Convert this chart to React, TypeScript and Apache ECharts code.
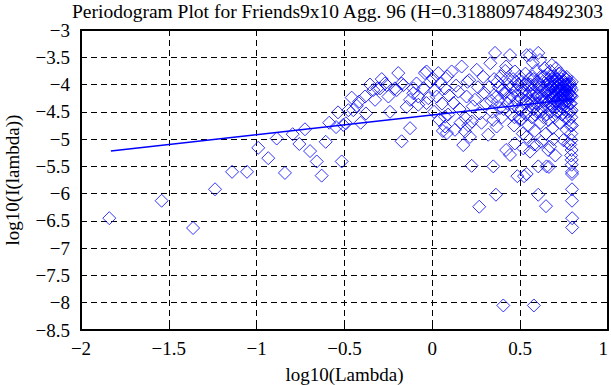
import React, { useEffect, useRef } from "react";
import * as echarts from "echarts";

const titleText = "Periodogram Plot for Friends9x10 Agg. 96 (H=0.318809748492303";
const xAxisName = "log10(Lambda)";
const yAxisName = "log10(I(lambda))";
const xTicks = { min: -2, max: 1, interval: 0.5 };
const yTicks = { min: -8.5, max: -3, interval: 0.5 };

// fitted regression line end points [log10(lambda), log10(I(lambda))]
const fitLine: number[][] = [
  [-1.83, -5.22],
  [0.8, -4.27],
];

// periodogram points, x < 0
const pointsLow: number[][] = [
  [-1.839, -6.45], [-1.541, -6.13], [-1.362, -6.63], [-1.237, -5.92], [-1.14, -5.6],
  [-1.055, -5.6], [-0.991, -5.16], [-0.934, -5.35], [-0.886, -4.99], [-0.839, -5.62],
  [-0.795, -4.91], [-0.757, -5.09], [-0.725, -4.82], [-0.696, -5.22], [-0.658, -5.41],
  [-0.63, -5.67], [-0.607, -5.05], [-0.587, -4.7], [-0.548, -4.78], [-0.537, -4.51],
  [-0.516, -5.41], [-0.507, -4.74], [-0.492, -4.71], [-0.478, -4.47], [-0.459, -4.24],
  [-0.45, -4.47], [-0.43, -4.39], [-0.416, -4.31], [-0.408, -4.7], [-0.383, -4.22],
  [-0.378, -4.53], [-0.355, -4.0], [-0.336, -4.1], [-0.326, -4.28], [-0.313, -4.07],
  [-0.298, -4.07], [-0.288, -3.9], [-0.27, -3.98], [-0.26, -4.01], [-0.25, -4.22],
  [-0.241, -4.5], [-0.213, -4.07], [-0.203, -4.1], [-0.194, -3.79], [-0.175, -5.04],
  [-0.175, -3.98], [-0.165, -4.01], [-0.146, -4.41], [-0.127, -4.8], [-0.127, -4.28],
  [-0.108, -4.16], [-0.108, -4.07], [-0.09, -3.98], [-0.08, -4.22], [-0.08, -4.37],
  [-0.051, -4.07], [-0.042, -3.79], [-0.033, -3.76], [-0.033, -4.34], [-0.023, -4.25],
  [-0.012, -3.95],
];

// periodogram points, 0 <= x < 0.5
const pointsMid: number[][] = [
  [0.005, -3.89], [0.01, -4.5], [0.015, -4.1], [0.025, -4.22], [0.034, -3.79],
  [0.04, -4.65], [0.045, -3.98], [0.055, -4.35], [0.06, -4.85], [0.072, -4.07],
  [0.072, -4.59], [0.072, -4.77], [0.083, -4.89], [0.085, -3.85], [0.09, -4.55],
  [0.095, -4.2], [0.11, -3.76], [0.12, -4.34], [0.129, -4.83], [0.135, -4.02],
  [0.148, -4.13], [0.155, -4.45], [0.16, -4.7], [0.167, -3.67], [0.176, -5.11],
  [0.186, -4.86], [0.19, -4.62], [0.195, -4.22], [0.2, -3.95], [0.205, -4.75],
  [0.21, -3.92], [0.214, -4.96], [0.224, -5.49], [0.225, -4.68], [0.23, -4.4],
  [0.243, -4.28], [0.253, -3.73], [0.26, -4.05], [0.267, -6.24], [0.271, -4.53],
  [0.28, -4.7], [0.29, -3.86], [0.295, -4.15], [0.318, -4.92], [0.33, -3.61],
  [0.335, -4.3], [0.347, -4.65], [0.347, -5.5], [0.357, -3.42], [0.362, -6.02],
  [0.366, -4.22], [0.366, -4.77], [0.37, -3.95], [0.378, -4.05], [0.385, -4.43],
  [0.39, -3.85], [0.395, -4.6], [0.404, -8.05], [0.41, -4.15], [0.415, -3.75],
  [0.42, -3.67], [0.42, -4.13], [0.42, -5.2], [0.428, -4.35], [0.435, -4.0],
  [0.442, -3.46], [0.442, -5.29], [0.45, -4.55], [0.455, -4.2], [0.46, -3.9],
  [0.465, -4.75], [0.47, -3.76], [0.47, -5.08], [0.475, -4.1], [0.48, -4.31],
  [0.484, -5.68], [0.488, -4.0], [0.492, -4.45], [0.497, -3.85],
];

// periodogram points, x >= 0.5
const pointsHigh: number[][] = [
  [0.5, -4.65], [0.505, -4.25], [0.51, -3.95], [0.515, -4.9], [0.518, -5.17],
  [0.52, -4.1], [0.522, -5.68], [0.525, -4.35], [0.53, -3.8], [0.533, -4.55],
  [0.537, -3.46], [0.537, -4.96], [0.537, -5.64], [0.54, -4.2], [0.545, -4.0],
  [0.548, -4.75], [0.55, -3.9], [0.556, -3.46], [0.556, -5.23], [0.56, -4.3],
  [0.563, -4.1], [0.566, -4.6], [0.57, -3.85], [0.573, -3.6], [0.575, -4.45],
  [0.578, -8.05], [0.58, -4.0], [0.58, -5.1], [0.583, -4.85], [0.586, -4.25],
  [0.59, -3.75], [0.593, -4.15], [0.594, -5.11], [0.596, -4.5], [0.6, -3.95],
  [0.603, -3.42], [0.603, -5.5], [0.603, -6.02], [0.606, -4.35], [0.61, -4.05],
  [0.613, -3.55], [0.616, -4.7], [0.62, -3.85], [0.62, -5.05], [0.623, -4.2],
  [0.626, -4.45], [0.63, -3.95], [0.633, -4.6], [0.636, -4.1], [0.64, -3.7],
  [0.643, -4.3], [0.647, -6.23], [0.647, -4.9], [0.65, -5.5], [0.652, -4.0],
  [0.655, -4.4], [0.658, -3.8], [0.66, -4.2], [0.66, -5.2], [0.662, -4.65],
  [0.664, -5.51], [0.666, -3.95], [0.668, -4.1], [0.67, -4.35], [0.67, -5.14],
  [0.672, -3.75], [0.674, -4.5], [0.676, -4.05], [0.678, -4.25], [0.68, -3.64],
  [0.682, -4.15], [0.684, -4.8], [0.686, -3.9], [0.688, -4.4], [0.69, -4.0],
  [0.69, -5.0], [0.692, -4.2], [0.694, -3.85], [0.696, -4.6], [0.698, -4.1],
  [0.7, -3.95], [0.7, -5.3], [0.702, -4.3], [0.704, -3.7], [0.706, -4.05],
  [0.708, -4.5], [0.71, -4.2], [0.712, -3.9], [0.714, -4.15], [0.716, -4.35],
  [0.718, -4.0], [0.72, -3.8], [0.722, -4.25], [0.724, -4.7], [0.726, -4.1],
  [0.728, -3.79], [0.73, -4.4], [0.732, -4.0], [0.734, -4.2], [0.736, -3.9],
  [0.738, -4.55], [0.74, -4.1], [0.742, -4.3], [0.744, -3.85], [0.746, -4.05],
  [0.746, -5.02], [0.748, -4.45], [0.75, -4.2], [0.752, -3.95], [0.754, -4.15],
  [0.756, -4.6], [0.758, -4.0], [0.76, -4.3], [0.762, -3.9], [0.764, -4.1],
  [0.765, -3.86], [0.765, -4.83], [0.766, -4.4], [0.768, -4.2], [0.77, -4.5],
  [0.772, -4.0], [0.774, -5.08], [0.776, -4.25], [0.778, -4.65], [0.78, -4.1],
  [0.782, -4.35], [0.784, -4.0], [0.785, -5.1], [0.786, -4.75], [0.788, -4.5],
  [0.79, -4.2], [0.79, -5.3], [0.791, -4.9], [0.792, -5.02], [0.793, -4.22],
  [0.793, -4.47], [0.793, -5.2], [0.793, -5.38], [0.793, -5.47], [0.795, -5.6],
  [0.795, -5.64], [0.795, -5.92], [0.795, -6.13], [0.796, -6.45], [0.796, -6.62],
];

// additional points filling the dense core of the cloud
const pointsCore: number[][] = [
  [0.305, -4.35], [0.322, -4.05], [0.34, -4.5], [0.352, -3.9], [0.374, -4.3],
  [0.398, -4.1], [0.406, -4.45], [0.425, -3.9], [0.438, -4.25], [0.448, -4.05],
  [0.458, -4.4], [0.468, -4.6], [0.478, -3.95], [0.486, -4.2], [0.495, -4.6],
  [0.508, -4.45], [0.512, -4.15], [0.527, -4.0], [0.535, -4.3], [0.543, -4.5],
  [0.552, -4.15], [0.558, -4.0], [0.565, -4.35], [0.572, -4.2], [0.577, -3.9],
  [0.585, -4.55], [0.592, -4.35], [0.598, -4.2], [0.605, -4.0], [0.612, -4.25],
  [0.618, -4.5], [0.625, -4.05], [0.632, -4.3], [0.638, -3.85], [0.645, -4.15],
  [0.651, -4.55], [0.656, -4.1], [0.661, -3.9], [0.665, -4.3], [0.669, -4.0],
  [0.673, -4.2], [0.677, -3.85], [0.681, -4.4], [0.685, -4.05], [0.689, -4.25],
  [0.693, -3.95], [0.697, -4.35], [0.701, -4.15], [0.705, -3.9], [0.709, -4.3],
  [0.713, -4.05], [0.717, -4.5], [0.721, -4.1], [0.725, -3.95], [0.729, -4.25],
  [0.733, -4.1], [0.737, -4.35], [0.741, -3.95], [0.745, -4.2], [0.749, -4.05],
  [0.753, -4.3], [0.757, -4.1], [0.761, -4.0], [0.763, -4.2], [0.767, -4.05],
  [0.771, -4.3], [0.775, -4.15], [0.779, -3.95], [0.783, -4.2], [0.787, -4.05],
  [0.789, -4.35], [0.791, -4.6], [0.794, -3.95], [0.794, -4.1], [0.795, -4.75],
];

const FONT = "'Liberation Serif', 'Times New Roman', serif";
const fmt = (v: number) => String(v).replace("-", "\u2212");

export default function App() {
  const ref = useRef<HTMLDivElement>(null);
  useEffect(() => {
    if (!ref.current) return;
    const chart = echarts.init(ref.current, null, { renderer: "svg" });
    const axisLine = { show: true, onZero: false, lineStyle: { color: "#000", width: 2 } };
    const tick = { show: true, inside: true, length: 6, lineStyle: { color: "#000", width: 1 } };
    const split = { show: true, lineStyle: { color: "#000", width: 1, type: [6, 4] } };
    const label = { color: "#000", fontFamily: FONT, fontSize: 19, formatter: fmt };
    chart.setOption({
      animation: false,
      backgroundColor: "#fff",
      title: {
        text: titleText,
        left: 72,
        top: 1,
        padding: 0,
        textStyle: { fontFamily: FONT, fontSize: 19.5, fontWeight: "normal", color: "#000" },
      },
      grid: {
        left: 81, right: 3, top: 30, bottom: 55,
        containLabel: false, outerBoundsMode: "none",
      },
      xAxis: [
        {
          type: "value", ...xTicks, position: "bottom",
          axisLine, axisTick: tick, splitLine: split,
          axisLabel: { ...label, margin: 9, alignMaxLabel: "right" },
          name: xAxisName, nameLocation: "middle", nameGap: 35,
          nameTextStyle: { color: "#000", fontFamily: FONT, fontSize: 19 },
        },
        {
          type: "value", ...xTicks, position: "top",
          axisLine, axisTick: tick, splitLine: { show: false }, axisLabel: { show: false },
        },
      ],
      yAxis: [
        {
          type: "value", ...yTicks, position: "left",
          axisLine, axisTick: tick, splitLine: split,
          axisLabel: { ...label, margin: 11 },
          name: yAxisName, nameLocation: "middle", nameGap: 59, nameRotate: 90,
          nameTextStyle: { color: "#000", fontFamily: FONT, fontSize: 19 },
        },
        {
          type: "value", ...yTicks, position: "right",
          axisLine, axisTick: tick, splitLine: { show: false }, axisLabel: { show: false },
        },
      ],
      series: [
        {
          type: "scatter",
          data: [...pointsLow, ...pointsMid, ...pointsHigh, ...pointsCore],
          symbol: "diamond",
          symbolSize: 13,
          itemStyle: { color: "rgba(0,0,0,0)", borderColor: "#0000ff", borderWidth: 1 },
          silent: true,
        },
        {
          type: "line",
          data: fitLine,
          symbol: "none",
          lineStyle: { color: "#0000ff", width: 1.5 },
          silent: true,
        },
      ],
    });
    return () => chart.dispose();
  }, []);
  return (
    <div
      ref={ref}
      style={{ position: "fixed", left: 0, top: 0, width: 611, height: 385 }}
    />
  );
}
